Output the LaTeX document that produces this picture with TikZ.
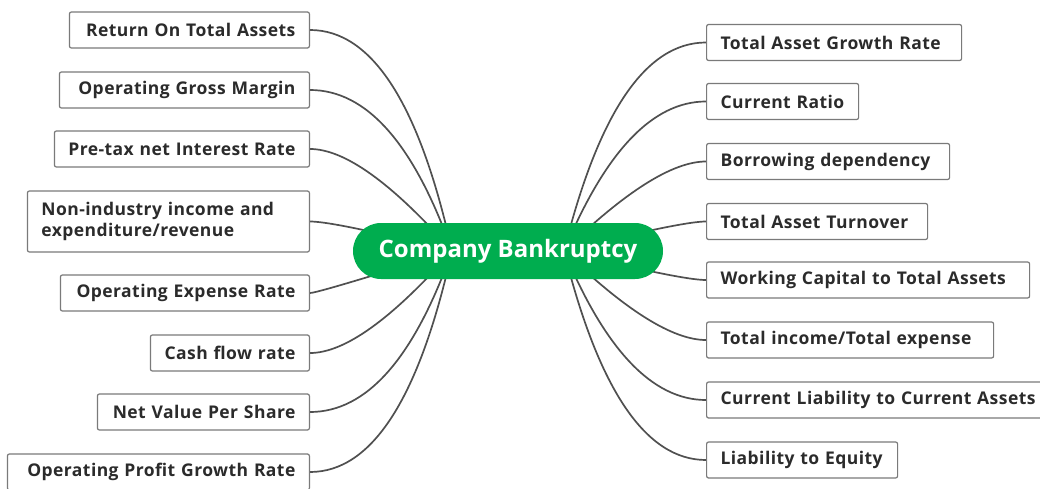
\documentclass[tikz,border=0pt]{standalone}
\usepackage{fontspec}
\setmainfont{Open Sans}
\newfontfamily\topicfont{Open Sans}[LetterSpace=2.5]
\usetikzlibrary{calc,backgrounds}
\definecolor{rootgreen}{HTML}{00AD4F}
\definecolor{linkgray}{HTML}{505050}
\definecolor{boxedge}{HTML}{7A7A7A}
\definecolor{labeltext}{HTML}{2B2B2B}

\begin{document}
\begin{tikzpicture}[x=1pt,y=-1pt,
  topic/.style={draw=boxedge, line width=1.2pt, rounded corners=2pt, fill=white,
    text=labeltext, font=\topicfont\fontsize{17.5}{21}\selectfont\bfseries,
    minimum height=36pt, inner xsep=14pt, inner ysep=0pt},
  lefttopic/.style={topic, anchor=east, text width=#1, align=right},
  righttopic/.style={topic, anchor=west, text width=#1, align=left},
  root/.style={fill=rootgreen, rounded corners=28pt, minimum width=310pt,
    minimum height=56pt, text=white, font=\fontsize{24}{28}\selectfont\bfseries},
  link/.style={draw=linkgray, line width=1.7pt},
  % quadratic-style curve leaving the topic horizontally towards the hub
  branch/.style={to path={.. controls ($(\tikztostart)+(2/3*#1,0)$)
    and ($(\tikztotarget)!2/3!(\tikztostart)+(2/3*#1,0)$) .. (\tikztotarget)}}
]
\useasboundingbox (0,0) rectangle (1040,489);

% central topic
\node[root] (root) at (508,251) {Company Bankruptcy};
\coordinate (hubL) at (452,251);
\coordinate (hubR) at (564,251);

% left-hand topics
\node[lefttopic=212pt] (rota)  at (310,30)    {Return On Total Assets};
\node[lefttopic=222pt] (ogm)   at (310,90)    {Operating Gross Margin};
\node[lefttopic=227pt] (ptnir) at (310,149)   {Pre-tax net Interest Rate};
\node[topic, anchor=east, text width=254pt, align=left, minimum height=61pt]
      (nii) at (310,221.5) {Non-industry income and\\expenditure/revenue};
\node[lefttopic=221pt] (oer)   at (310,293)   {Operating Expense Rate};
\node[lefttopic=131pt] (cfr)   at (310,353)   {Cash flow rate};
\node[lefttopic=184pt] (nvps)  at (310,412)   {Net Value Per Share};
\node[lefttopic=274pt] (opgr)  at (310,472)   {Operating Profit Growth Rate};

% right-hand topics
\node[righttopic=227pt] (tagr) at (706,42.5)  {Total Asset Growth Rate};
\node[righttopic=124pt] (cr)   at (706,101.5) {Current Ratio};
\node[righttopic=215pt] (bd)   at (706,161.5) {Borrowing dependency};
\node[righttopic=193pt] (tat)  at (706,221.5) {Total Asset Turnover};
\node[righttopic=295pt] (wcta) at (706,280)   {Working Capital to Total Assets};
\node[righttopic=259pt] (tite) at (706,340)   {Total income/Total expense};
\node[righttopic=317pt] (clca) at (706,400)   {Current Liability to Current Assets};
\node[righttopic=163pt] (lte)  at (706,460)   {Liability to Equity};

\begin{scope}[on background layer]
  \fill[white] (0,0) rectangle (1040,489);
  \draw[link] (rota.east)  to[branch=93] (hubL);
  \draw[link] (ogm.east)   to[branch=85] (hubL);
  \draw[link] (ptnir.east) to[branch=52] (hubL);
  \draw[link] (nii.east)   to[branch=25] (hubL);
  \draw[link] (oer.east)   to[branch=8]  (hubL);
  \draw[link] (cfr.east)   to[branch=52] (hubL);
  \draw[link] (nvps.east)  to[branch=85] (hubL);
  \draw[link] (opgr.east)  to[branch=93] (hubL);

  \draw[link] (tagr.west) to[branch=-90] (hubR);
  \draw[link] (cr.west)   to[branch=-80] (hubR);
  \draw[link] (bd.west)   to[branch=-50] (hubR);
  \draw[link] (tat.west)  to[branch=-25] (hubR);
  \draw[link] (wcta.west) to[branch=-25] (hubR);
  \draw[link] (tite.west) to[branch=-50] (hubR);
  \draw[link] (clca.west) to[branch=-80] (hubR);
  \draw[link] (lte.west)  to[branch=-90] (hubR);
\end{scope}
\end{tikzpicture}
\end{document}
